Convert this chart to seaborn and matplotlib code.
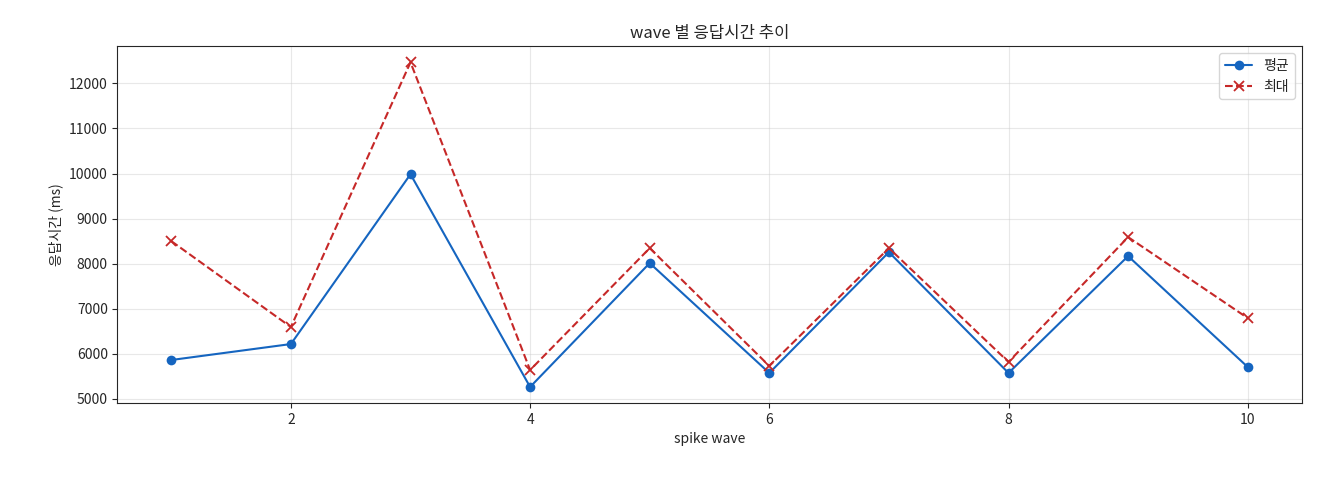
import matplotlib
matplotlib.use("Agg")
import matplotlib.pyplot as plt
import seaborn as sns
import pandas as pd

waves = [1, 2, 3, 4, 5, 6, 7, 8, 9, 10]
avg_ms = [5864, 6218, 9984, 5266, 8013, 5576, 8256, 5576, 8168, 5709]
max_ms = [8500, 6595, 12466, 5642, 8345, 5731, 8345, 5820, 8589, 6794]

sns.set_style("ticks")
plt.rcParams['font.family'] = ['Noto Sans CJK KR', 'DejaVu Sans']
plt.rcParams['axes.unicode_minus'] = False

df = pd.DataFrame({"wave": waves, "avg": avg_ms, "max": max_ms})
fig, ax = plt.subplots(figsize=(13.2, 4.8), dpi=100)
sns.lineplot(data=df, x="wave", y="avg", ax=ax, color="#1565c0", marker="o",
             markersize=7, markeredgewidth=0, label="평균", linewidth=1.5)
sns.lineplot(data=df, x="wave", y="max", ax=ax, color="#c62828", marker="x",
             markersize=7, markeredgewidth=1.3, markeredgecolor="#c62828",
             linestyle="--", label="최대", linewidth=1.5)
ax.grid(True, alpha=0.45)
ax.set_title("wave 별 응답시간 추이")
ax.set_xlabel("spike wave")
ax.set_ylabel("응답시간 (ms)")
ax.legend(loc="upper right")
fig.subplots_adjust(left=0.089, right=0.986, top=0.904, bottom=0.16)
fig.savefig("out.png")
